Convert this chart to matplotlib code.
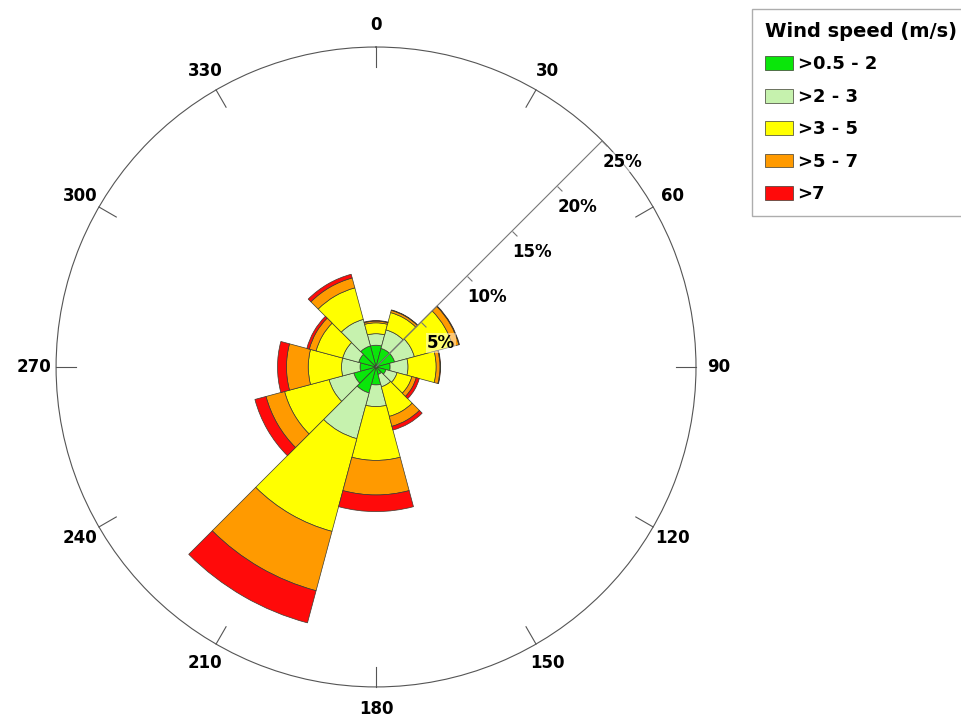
import numpy as np
import matplotlib.pyplot as plt
from matplotlib.markers import MarkerStyle
from matplotlib.path import Path
from matplotlib.transforms import Affine2D

# Direction sectors (degrees, clockwise from north)
directions = [0, 30, 60, 90, 120, 150, 180, 210, 240, 270, 300, 330]

# Frequency (%) per direction for each wind-speed class
freq_05_2 = [1.70, 1.50, 1.50, 1.10, 0.80, 0.60, 1.40, 2.10, 1.80, 1.25, 1.40, 1.70]
freq_2_3  = [0.90, 1.50, 1.60, 1.40, 0.90, 1.00, 1.70, 3.70, 2.00, 1.45, 1.30, 2.15]
freq_3_5  = [0.85, 1.40, 3.10, 2.20, 1.20, 2.40, 4.20, 7.50, 3.60, 2.60, 2.15, 2.55]
freq_5_7  = [0.13, 0.18, 0.50, 0.30, 0.35, 0.80, 2.70, 4.80, 1.50, 1.70, 0.55, 0.80]
freq_gt7  = [0.05, 0.04, 0.05, 0.05, 0.25, 0.30, 1.30, 2.60, 0.90, 0.70, 0.20, 0.30]

speed_classes = ['>0.5 - 2', '>2 - 3', '>3 - 5', '>5 - 7', '>7']
class_colors = ['#0ae60a', '#c6f2ae', '#ffff00', '#ff9a00', '#ff0a0a']

radial_ticks = [5, 10, 15, 20, 25]
angle_labels = [str(d) for d in directions]
r_max = 25

fig = plt.figure(figsize=(9.61, 7.19), dpi=100)
ax = fig.add_axes([0.0583, 0.0446, 0.666, 0.890], projection='polar')
ax.set_theta_zero_location('N')
ax.set_theta_direction(-1)

theta = np.deg2rad(directions)
sector = np.deg2rad(30)
bottom = np.zeros(len(directions))
series = [freq_05_2, freq_2_3, freq_3_5, freq_5_7, freq_gt7]
for vals, col, lab in zip(series, class_colors, speed_classes):
    vals = np.asarray(vals)
    ax.bar(theta, vals, width=sector, bottom=bottom, color=col,
           edgecolor='#3c3c30', linewidth=0.5, label=lab, zorder=2)
    bottom = bottom + vals

ax.set_ylim(0, r_max)
ax.grid(False)
ax.set_yticks([])
ax.set_thetagrids(directions, labels=angle_labels)
for t in ax.get_xticklabels():
    t.set_fontsize(12)
    t.set_fontweight('bold')
ax.tick_params(axis='x', length=0, pad=9)
ax.spines['polar'].set_color('#555555')
ax.spines['polar'].set_linewidth(0.8)

# inward direction ticks on the outer ring
tick_len = r_max * 20 / 320
for t in theta:
    ax.plot([t, t], [r_max - tick_len, r_max], color='#555555', lw=0.8,
            zorder=3, clip_on=False)

# radial scale drawn along the 45 degree line
ang = np.deg2rad(45)
ax.plot([ang, ang], [0, r_max], color='#777777', lw=0.8, zorder=3)
tick_marker = MarkerStyle(Path([(0, 0), (1, 0)]),
                          transform=Affine2D().rotate_deg(-45))
ax.plot([ang] * len(radial_ticks), radial_ticks, linestyle='none',
        marker=tick_marker, markersize=10, markeredgecolor='#777777',
        markeredgewidth=0.8, zorder=3)
for r in radial_ticks:
    ax.annotate(f'{r}%', xy=(ang, r), xytext=(20, -21),
                textcoords='offset pixels', ha='center', va='center',
                fontsize=12, fontweight='bold', zorder=4,
                bbox=dict(boxstyle='square,pad=0.05', fc='white',
                          ec='none', alpha=0.45))

handles, labels = ax.get_legend_handles_labels()
leg = fig.legend(handles, labels, loc='upper left',
                 bbox_to_anchor=(752 / 961, 1 - 9 / 719),
                 title='Wind speed (m/s)',
                 title_fontproperties={'weight': 'bold', 'size': 14},
                 prop={'weight': 'bold', 'size': 13},
                 frameon=True, fancybox=False, edgecolor='#999999',
                 handlelength=1.55, handleheight=0.8, handletextpad=0.25,
                 labelspacing=0.8, borderpad=0.72, borderaxespad=0,
                 alignment='left')
leg.get_frame().set_linewidth(1.0)

fig.savefig('out.png', dpi=100, facecolor='white')
